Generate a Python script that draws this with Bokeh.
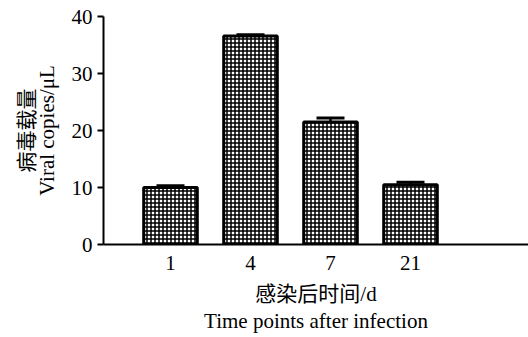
from bokeh.plotting import figure
from bokeh.models import ColumnDataSource, Whisker, TeeHead, FixedTicker, Range1d
from bokeh.embed import file_html
from bokeh.resources import INLINE

categories = ["1", "4", "7", "21"]
values = [10.0, 36.6, 21.5, 10.5]
errors = [0.3, 0.2, 0.7, 0.4]
y_ticks = [0, 10, 20, 30, 40]

xpos = list(range(1, len(categories) + 1))
upper = [v + e for v, e in zip(values, errors)]
src = ColumnDataSource(dict(x=xpos, top=values, upper=upper))

p = figure(width=528, height=337, output_backend="svg", toolbar_location=None,
           x_range=Range1d(0.1625, 5.475), y_range=Range1d(0, 40),
           min_border_left=103, min_border_right=0, min_border_top=16, min_border_bottom=93)
p.outline_line_color = None
p.grid.grid_line_color = None
p.background_fill_color = "white"

p.vbar(x="x", top="top", width=0.67, bottom=0, source=src,
       fill_color="white", line_color="black", line_width=3,
       hatch_pattern="cross", hatch_color="black", hatch_scale=4, hatch_weight=1.5)

w = Whisker(base="x", upper="upper", lower="top", source=src,
            line_color="black", line_width=2.5,
            upper_head=TeeHead(size=28, line_width=3, line_color="black"),
            lower_head=None)
p.add_layout(w)

serif = "'Liberation Serif', 'Noto Sans CJK SC'"

p.yaxis.ticker = FixedTicker(ticks=y_ticks)
p.yaxis.minor_tick_line_color = None
p.yaxis.major_tick_in = 0
p.yaxis.major_tick_out = 6
p.yaxis.major_tick_line_width = 2
p.yaxis.axis_line_width = 2
p.yaxis.major_label_text_font = serif
p.yaxis.major_label_text_font_size = "21px"
p.yaxis.major_label_text_color = "black"
p.yaxis.axis_label = "病毒载量\nViral copies/μL"
p.yaxis.axis_label_text_font = serif
p.yaxis.axis_label_text_font_size = "21px"
p.yaxis.axis_label_text_font_style = "normal"
p.yaxis.axis_label_text_color = "black"
p.yaxis.axis_label_text_line_height = 0.8
p.yaxis.axis_label_standoff = 10

p.xaxis.ticker = FixedTicker(ticks=xpos)
p.xaxis.major_label_overrides = {x: c for x, c in zip(xpos, categories)}
p.xaxis.minor_tick_line_color = None
p.xaxis.major_tick_in = 0
p.xaxis.major_tick_out = 0
p.xaxis.axis_line_width = 2
p.xaxis.major_label_standoff = 11
p.xaxis.major_label_text_font = serif
p.xaxis.major_label_text_font_size = "21px"
p.xaxis.major_label_text_color = "black"
p.xaxis.axis_label = "感染后时间/d\nTime points after infection"
p.xaxis.axis_label_text_font = serif
p.xaxis.axis_label_text_font_size = "21px"
p.xaxis.axis_label_text_font_style = "normal"
p.xaxis.axis_label_text_color = "black"
p.xaxis.axis_label_text_line_height = 1.15
p.xaxis.axis_label_standoff = 9

open("out.html", "w").write(file_html(p, INLINE))
